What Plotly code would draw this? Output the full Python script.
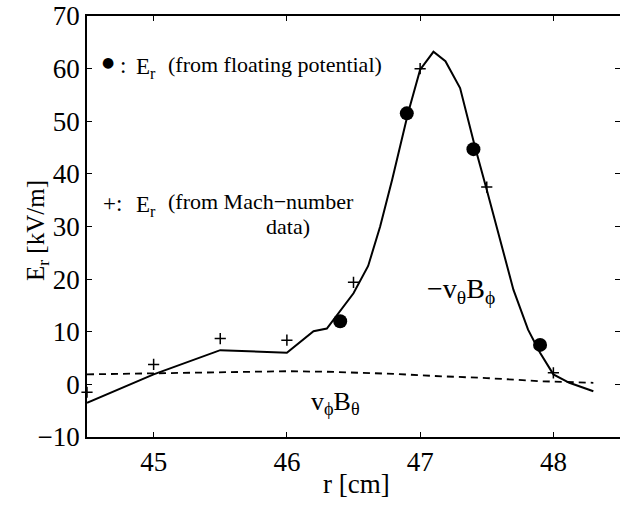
import plotly.graph_objects as go

# -v_theta B_phi (solid line)
r_line = [44.5, 45.0, 45.5, 46.0, 46.2, 46.3, 46.5, 46.61, 46.7, 46.79, 46.91, 47.0, 47.1,
          47.19, 47.3, 47.41, 47.5, 47.6, 47.7, 47.81, 47.9, 48.0, 48.12, 48.3]
e_line = [-3.5, 1.9, 6.5, 6.0, 10.1, 10.6, 17.3, 22.5, 30.0, 38.9, 51.6, 59.8, 63.2,
          61.4, 56.3, 45.3, 37.0, 27.5, 18.0, 10.4, 6.0, 1.9, 0.3, -1.3]

# v_phi B_theta (dashed line)
r_dash = [44.5, 45.0, 45.5, 46.0, 46.3, 46.8, 47.1, 47.5, 47.9, 48.3]
e_dash = [1.9, 2.1, 2.3, 2.5, 2.4, 2.0, 1.6, 1.2, 0.6, 0.3]

# E_r from floating potential (dots)
r_float = [46.4, 46.9, 47.4, 47.9]
e_float = [12.0, 51.5, 44.7, 7.5]

# E_r from Mach-number data (plus)
r_mach = [44.5, 45.0, 45.5, 46.0, 46.5, 47.0, 47.5, 48.0]
e_mach = [-1.5, 3.8, 8.7, 8.4, 19.4, 60.0, 37.5, 2.2]

x_ticks = [45, 46, 47, 48]
y_ticks = [-10, 0, 10, 20, 30, 40, 50, 60, 70]

W, H = 620, 505
L, R, T, B = 87, 0, 16, 68
PW, PH = W - L - R, H - T - B

def px(x):
    return (x - L) / PW

def py(y):
    return (H - B - y) / PH

SERIF = "Liberation Serif, Times New Roman, serif"

fig = go.Figure()
fig.add_trace(go.Scatter(x=r_line, y=e_line, mode="lines",
                         line=dict(color="black", width=2), hoverinfo="skip"))
fig.add_trace(go.Scatter(x=r_dash, y=e_dash, mode="lines",
                         line=dict(color="black", width=1.8, dash="7px,5px"), hoverinfo="skip"))
fig.add_trace(go.Scatter(x=r_float, y=e_float, mode="markers",
                         marker=dict(symbol="circle", size=14, color="black"), hoverinfo="skip"))
fig.add_trace(go.Scatter(x=r_mach, y=e_mach, mode="markers", cliponaxis=False,
                         marker=dict(symbol="cross-thin", size=8, color="black",
                                     line=dict(color="black", width=1.5)), hoverinfo="skip"))
fig.add_trace(go.Scatter(x=[], y=[], xaxis="x2", yaxis="y2", showlegend=False, hoverinfo="skip"))

axis_common = dict(ticks="inside", ticklen=5, tickwidth=1.2, tickcolor="black",
                   showgrid=False, zeroline=False, linewidth=1.5)

fig.update_layout(
    width=W, height=H, margin=dict(l=L, r=R, t=T, b=B),
    paper_bgcolor="white", plot_bgcolor="white", showlegend=False,
    font=dict(family=SERIF, color="black", size=27),
    xaxis=dict(range=[44.5, 48.5], tickvals=x_ticks, showline=True, linecolor="black",
               tickfont=dict(size=27), **axis_common),
    yaxis=dict(range=[-10, 70], tickvals=y_ticks, showline=True, linecolor="black",
               tickfont=dict(size=27), **axis_common),
    xaxis2=dict(range=[44.5, 48.5], tickvals=x_ticks, overlaying="x", side="top",
                anchor="y", showline=True, linecolor="black", showticklabels=False,
                **axis_common),
    yaxis2=dict(range=[-10, 70], tickvals=y_ticks, overlaying="y", side="right",
                anchor="x", showline=False, linecolor="rgba(0,0,0,0)",
                showticklabels=False, **axis_common),
)

ann = []
def add(text, x, y, size, xanchor="left", yanchor="middle", angle=0, family=SERIF):
    ann.append(dict(text=text, x=px(x), y=py(y), xref="paper", yref="paper",
                    xanchor=xanchor, yanchor=yanchor, showarrow=False, textangle=angle,
                    font=dict(family=family, size=size, color="black")))

# axis titles
add("r [cm]", 356, 484, 27, xanchor="center")
add("E<sub>r</sub> [kV/m]", 38, 231, 25, xanchor="center", angle=-90)

# in-plot legend text
add("●", 108, 62, 14, xanchor="center", family="DejaVu Sans")
add(":", 118, 65, 23)
add("E<sub>r</sub>", 134, 68, 23)
add("(from floating potential)", 166, 64, 22)

add("+:", 101, 203, 23)
add("E<sub>r</sub>", 134, 206, 23)
add("(from Mach\u2212number", 166, 201, 22)
add("data)", 264, 226, 22)

# curve labels
add("\u2212v<sub>\u03b8</sub>B<sub>\u03d5</sub>", 461, 290, 28, xanchor="center")
add("v<sub>\u03d5</sub>B<sub>\u03b8</sub>", 335, 403, 26, xanchor="center")

fig.update_layout(annotations=ann)
fig.write_html("out.html", config={"displayModeBar": False},
               post_script="document.body.style.margin='0';")
